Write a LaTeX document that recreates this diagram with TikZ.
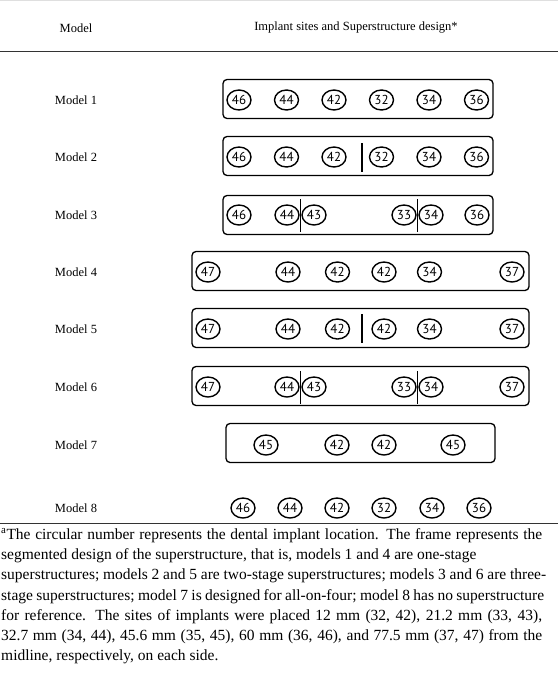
\documentclass[tikz,border=0pt]{standalone}
\usepackage{fontspec}
\setmainfont{Liberation Serif}
\newfontfamily\sitefont{PT Sans}
\usetikzlibrary{positioning,shapes.geometric}

\begin{document}
\begin{tikzpicture}[
    x=1pt, y=-1pt,
    head/.style={font=\fontsize{12.5}{15}\selectfont},
    modelname/.style={font=\fontsize{12.5}{15}\selectfont},
    site/.style={draw, ellipse, line width=1.4pt, minimum width=24pt, minimum height=20pt, inner sep=0pt, font=\sitefont\fontsize{13}{13}\selectfont},
    plate/.style={draw, rounded corners=4pt, line width=1.3pt, minimum height=39pt},
    cut/.style={line width=2pt},
    thincut/.style={line width=1.2pt},
    rule/.style={line width=1.4pt, black!80},
    note/.style={font=\fontsize{15.5}{20.3}\selectfont, align=left, inner sep=0pt}
]
\useasboundingbox (0,0) rectangle (558,674);
\draw[gray!25] (0,0.5) -- (558,0.5);
\node[head] (hmodel) at (76,28) {Model};
\node[head] (hdesign) at (356,28) {Implant sites and Superstructure design*};
\draw[rule] (0,51.5) -- (558,51.5);

\node[modelname] (model1) at (76,100) {Model 1};
\node[modelname] (model2) at (76,157) {Model 2};
\node[modelname] (model3) at (76,215) {Model 3};
\node[modelname] (model4) at (76,272) {Model 4};
\node[modelname] (model5) at (76,329) {Model 5};
\node[modelname] (model6) at (76,387) {Model 6};
\node[modelname] (model7) at (76,445) {Model 7};
\node[modelname] (model8) at (76,508) {Model 8};

\node[plate, minimum width=270pt] (plate1) at (358,99) {};
\node[plate, minimum width=270pt] (plate2) at (358,156) {};
\node[plate, minimum width=270pt] (plate3) at (358,215) {};
\node[plate, minimum width=337pt] (plate4) at (360.5,271) {};
\node[plate, minimum width=337pt] (plate5) at (360.5,328) {};
\node[plate, minimum width=337pt] (plate6) at (360.5,386) {};
\node[plate, minimum width=269pt] (plate7) at (360.5,443) {};

\node[site] (m1-46) at (239,100) {46};
\node[site] (m1-44) at (286.5,100) {44};
\node[site] (m1-42) at (334,100) {42};
\node[site] (m1-32) at (381.5,100) {32};
\node[site] (m1-34) at (429,100) {34};
\node[site] (m1-36) at (476.5,100) {36};

\node[site] (m2-46) at (239,157) {46};
\node[site] (m2-44) at (286.5,157) {44};
\node[site] (m2-42) at (334,157) {42};
\node[site] (m2-32) at (381.5,157) {32};
\node[site] (m2-34) at (429,157) {34};
\node[site] (m2-36) at (476.5,157) {36};
\draw[cut] (361.5,143) -- (361.5,172);

\node[site] (m3-46) at (239,215) {46};
\node[site] (m3-44) at (287,215) {44};
\node[site] (m3-43) at (314,215) {43};
\node[site] (m3-33) at (404,215) {33};
\node[site] (m3-34) at (431,215) {34};
\node[site] (m3-36) at (477,215) {36};
\draw[thincut] (300.5,199) -- (300.5,232);
\draw[thincut] (417.5,199) -- (417.5,232);

\node[site] (m4-47) at (208,272) {47};
\node[site] (m4-44) at (288,272) {44};
\node[site] (m4-42l) at (337.5,272) {42};
\node[site] (m4-42r) at (384,272) {42};
\node[site] (m4-34) at (429.5,272) {34};
\node[site] (m4-37) at (512,272) {37};

\node[site] (m5-47) at (208,329) {47};
\node[site] (m5-44) at (288,329) {44};
\node[site] (m5-42l) at (337.5,329) {42};
\node[site] (m5-42r) at (384,329) {42};
\node[site] (m5-34) at (429.5,329) {34};
\node[site] (m5-37) at (512,329) {37};
\draw[cut] (361.5,314) -- (361.5,343);

\node[site] (m6-47) at (208,387) {47};
\node[site] (m6-44) at (287,387) {44};
\node[site] (m6-43) at (314,387) {43};
\node[site] (m6-33) at (404,387) {33};
\node[site] (m6-34) at (431,387) {34};
\node[site] (m6-37) at (512,387) {37};
\draw[thincut] (300.5,371) -- (300.5,404);
\draw[thincut] (417.5,371) -- (417.5,404);

\node[site] (m7-45l) at (266,445) {45};
\node[site] (m7-42l) at (337,445) {42};
\node[site] (m7-42r) at (384,445) {42};
\node[site] (m7-45r) at (453,445) {45};

\node[site] (m8-46) at (243,508) {46};
\node[site] (m8-44) at (290,508) {44};
\node[site] (m8-42) at (337,508) {42};
\node[site] (m8-32) at (384,508) {32};
\node[site] (m8-34) at (432,508) {34};
\node[site] (m8-36) at (479,508) {36};

\draw[rule, line width=1.2pt] (0,523.5) -- (558,523.5);
\node[note, anchor=north west] (note) at (1,528) {\makebox[541pt][s]{\textsuperscript{a}The circular number represents the dental implant location. The frame represents the}\\
segmented design of the superstructure, that is, models 1 and 4 are one-stage\\
\makebox[545pt][s]{superstructures; models 2 and 5 are two-stage superstructures; models 3 and 6 are three-}\\
\makebox[543pt][s]{stage superstructures; model 7 is designed for all-on-four; model 8 has no superstructure}\\
\makebox[541pt][s]{for reference. The sites of implants were placed 12 mm (32, 42), 21.2 mm (33, 43),}\\
\makebox[541pt][s]{32.7 mm (34, 44), 45.6 mm (35, 45), 60 mm (36, 46), and 77.5 mm (37, 47) from the}\\
midline, respectively, on each side.};
\end{tikzpicture}
\end{document}
